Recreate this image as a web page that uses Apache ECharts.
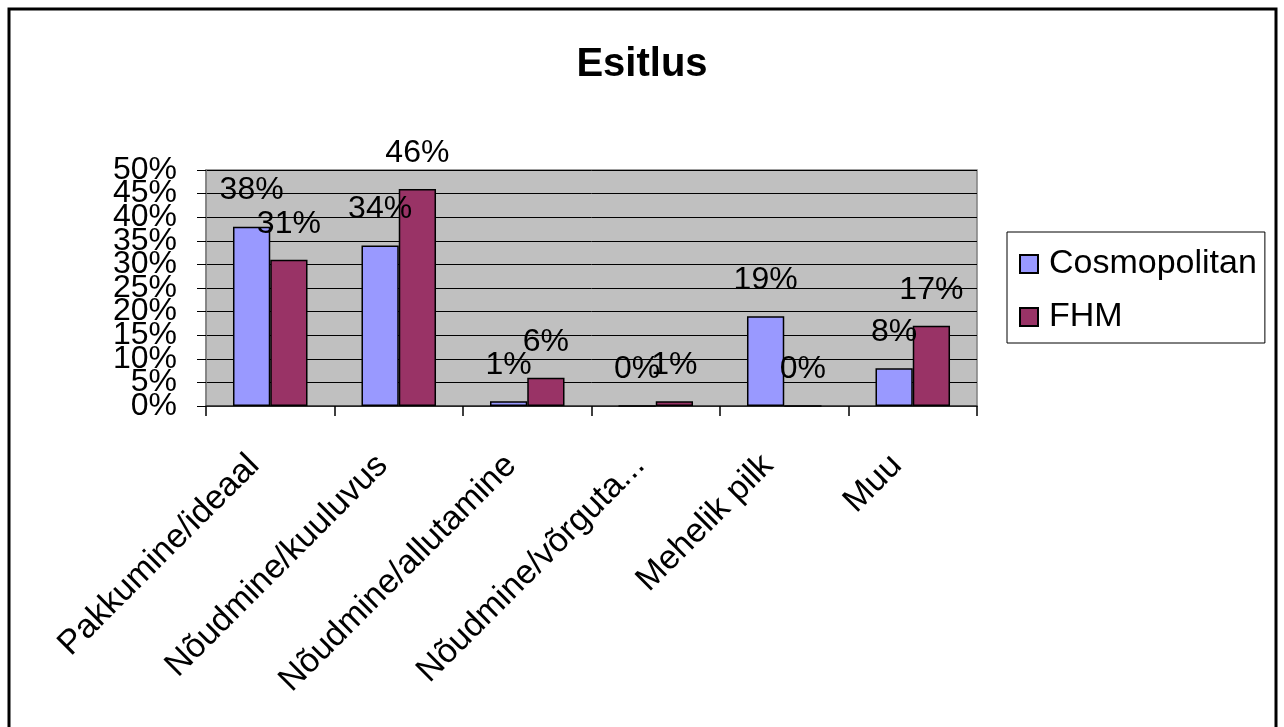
<!DOCTYPE html>
<html>
<head>
<meta charset="utf-8">
<script src="https://cdn.jsdelivr.net/npm/echarts@6/dist/echarts.min.js"></script>
<style>html,body{margin:0;padding:0;background:#fff}#c{width:1284px;height:727px}</style>
</head>
<body>
<div id="c"></div>
<script>
const titleText = 'Esitlus';
const categories = ['Pakkumine/ideaal', 'Nõudmine/kuuluvus', 'Nõudmine/allutamine', 'Nõudmine/võrguta...', 'Mehelik pilk', 'Muu'];
const seriesNames = ['Cosmopolitan', 'FHM'];
const cosmopolitan = [38, 34, 1, 0, 19, 8];
const fhm = [31, 46, 6, 1, 0, 17];
const yTicks = { min: 0, max: 50, interval: 5 };

const FONT = "'Liberation Sans', Arial, sans-serif";
const chart = echarts.init(document.getElementById('c'));
const labelCfg = {
  show: true, position: 'top', distance: 20,
  formatter: p => p.value + '%',
  color: '#000', fontSize: 32, fontFamily: FONT
};
const yLabelBase = { fontSize: 32, color: '#000', fontFamily: FONT, margin: 29 };
chart.setOption({
  backgroundColor: '#fff',
  animation: false,
  graphic: [{
    type: 'rect', shape: { x: 9, y: 9, width: 1267, height: 740 },
    style: { fill: 'none', stroke: '#000', lineWidth: 3 }, z: 100
  }],
  title: {
    text: titleText, left: 'center', top: 40,
    textStyle: { fontSize: 40, fontWeight: 'bold', color: '#000', fontFamily: FONT }
  },
  legend: {
    orient: 'vertical', left: 1007, top: 232,
    padding: [15, 8, 9, 12], itemGap: 19,
    itemWidth: 18, itemHeight: 18, icon: 'rect',
    borderColor: '#000', borderWidth: 1, backgroundColor: '#fff',
    textStyle: { fontSize: 34, color: '#000', fontFamily: FONT, padding: [0, 0, 0, 6] },
    data: seriesNames
  },
  grid: {
    left: 206, right: 307, top: 170, bottom: 321,
    show: true, backgroundColor: '#c0c0c0', borderColor: '#808080', borderWidth: 1.5
  },
  xAxis: {
    type: 'category', data: categories,
    axisLine: { lineStyle: { color: '#333', width: 1.5 } },
    axisTick: { show: true, length: 10, lineStyle: { color: '#000', width: 1.5 } },
    axisLabel: {
      rotate: 45, fontSize: 34, color: '#000', fontFamily: FONT, margin: 14, interval: 0,
      verticalAlign: 'top', padding: [0, 40, 0, 0]
    }
  },
  yAxis: [
    {
      type: 'value', min: yTicks.min, max: yTicks.max, interval: yTicks.interval, position: 'left',
      axisLine: { show: true, lineStyle: { color: '#808080', width: 1.5 } },
      axisTick: { show: true, length: 9, lineStyle: { color: '#000', width: 1 } },
      axisLabel: Object.assign({}, yLabelBase, {
        formatter: v => (v === yTicks.min || v === yTicks.max) ? v + '%' : '',
        showMinLabel: true, showMaxLabel: true
      }),
      splitLine: { show: true, lineStyle: { color: '#000', width: 1 } }
    },
    {
      type: 'value', min: yTicks.min, max: yTicks.max, interval: yTicks.interval, position: 'left', offset: 0,
      axisLine: { show: false }, axisTick: { show: false }, splitLine: { show: false },
      axisLabel: Object.assign({}, yLabelBase, {
        formatter: '{value}%', showMinLabel: false, showMaxLabel: false
      })
    }
  ],
  series: [
    {
      name: seriesNames[0], type: 'bar', data: cosmopolitan,
      barGap: '0%', barCategoryGap: '42%',
      itemStyle: { color: '#9999ff', borderColor: '#000', borderWidth: 1.5 },
      label: labelCfg
    },
    {
      name: seriesNames[1], type: 'bar', data: fhm,
      itemStyle: { color: '#993366', borderColor: '#000', borderWidth: 1.5 },
      label: labelCfg
    }
  ]
});
</script>
</body>
</html>
